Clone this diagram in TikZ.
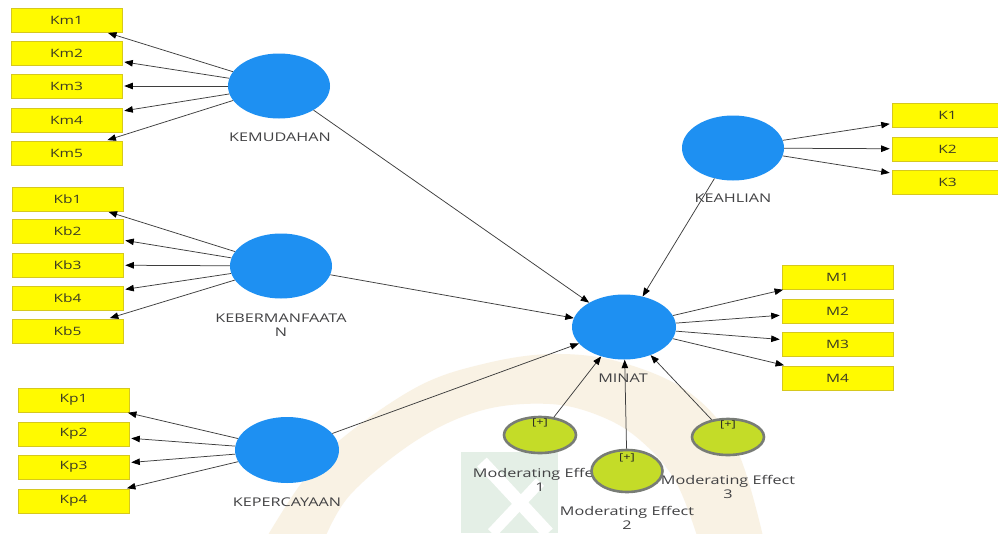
\documentclass[tikz,border=0pt]{standalone}
\usepackage{fontspec}
\usetikzlibrary{shapes.geometric,arrows.meta}
\newfontfamily\diagfont[FakeStretch=1.35]{Open Sans}

\definecolor{lvblue}{RGB}{30,144,242}
\definecolor{indyellow}{RGB}{255,250,0}
\definecolor{indborder}{RGB}{214,200,30}
\definecolor{modgreen}{RGB}{196,220,40}
\definecolor{modgray}{RGB}{120,124,118}
\definecolor{linkgray}{RGB}{62,62,62}
\definecolor{labelgray}{RGB}{66,66,68}
\definecolor{boxtext}{RGB}{60,60,36}
\definecolor{wmbeige}{RGB}{249,242,228}
\definecolor{wmgreen}{RGB}{228,239,230}

\tikzset{
  lv/.style={ellipse, fill=lvblue, minimum width=102pt, minimum height=65pt, inner sep=0pt},
  indbox/.style={rectangle, fill=indyellow, draw=indborder, line width=0.6pt,
    minimum width=111pt, minimum height=24pt, inner sep=0pt,
    font=\diagfont\fontsize{11.5}{12}\selectfont, text=boxtext},
  modlv/.style={ellipse, fill=modgreen, draw=modgray, line width=2.6pt,
    minimum width=72pt, minimum height=36pt, inner sep=0pt},
  plus/.style={font=\diagfont\fontsize{9.5}{10}\selectfont, text=black!85, inner sep=0pt},
  lvname/.style={font=\diagfont\fontsize{12}{14.5}\selectfont, text=labelgray,
    align=center, inner sep=0pt},
  link/.style={draw=linkgray, line width=0.75pt,
    -{Triangle[length=8.5pt,width=6.5pt,color=black]}, shorten >=2pt},
}

\begin{document}
\begin{tikzpicture}[x=1pt,y=-1pt]
\useasboundingbox (0,0) rectangle (998,533);
\fill[white] (0,0) rectangle (998,533);

% faint background emblem: a broad arch and a green block with a white cross
\begin{scope}
  \clip (0,0) rectangle (998,533);
  \fill[wmbeige] plot[smooth, tension=0.6] coordinates {(262,545) (300,485) (340,440) (417,387) (483,364) (552,354) (620,362) (690,393) (737,450) (765,545)}
    -- plot[smooth, tension=0.6] coordinates {(700,545) (676,482) (640,440) (600,416) (550,404) (483,410) (417,440) (350,495) (322,545)}
    -- cycle;
  \fill[wmgreen] (461,452) rectangle (558,533);
  \draw[white, line width=13pt] (482,462) -- (548,533);
  \draw[white, line width=11pt] (540,482) -- (492,533);
\end{scope}

% latent variables
\node[lv] (kem) at (279,86) {};
\node[lv] (keb) at (281,266) {};
\node[lv, minimum width=104pt, minimum height=66pt] (kep) at (287,450) {};
\node[lv, minimum width=104pt] (minat) at (624,327) {};
\node[lv] (keah) at (733,148) {};

% latent variable names
\node[lvname] (kemname) at (280,137) {KEMUDAHAN};
\node[lvname] (kebname) at (281,325) {KEBERMANFAATA\\N};
\node[lvname] (kepname) at (287,502) {KEPERCAYAAN};
\node[lvname] (minatname) at (623,378) {MINAT};
\node[lvname] (keahname) at (733,198) {KEAHLIAN};

% indicators
\node[indbox] (km1) at (66.5,20) {Km1};
\node[indbox] (km2) at (66.5,53) {Km2};
\node[indbox] (km3) at (66.5,86) {Km3};
\node[indbox] (km4) at (66.5,120) {Km4};
\node[indbox] (km5) at (66.5,153) {Km5};

\node[indbox] (kb1) at (67.5,199) {Kb1};
\node[indbox] (kb2) at (67.5,231) {Kb2};
\node[indbox] (kb3) at (67.5,265) {Kb3};
\node[indbox] (kb4) at (67.5,298) {Kb4};
\node[indbox] (kb5) at (67.5,331) {Kb5};

\node[indbox] (kp1) at (73.5,400) {Kp1};
\node[indbox] (kp2) at (73.5,434) {Kp2};
\node[indbox] (kp3) at (73.5,467) {Kp3};
\node[indbox] (kp4) at (73.5,501) {Kp4};

\node[indbox] (k1) at (947.5,115) {K1};
\node[indbox] (k2) at (947.5,149) {K2};
\node[indbox] (k3) at (947.5,182) {K3};

\node[indbox] (m1) at (837.5,277) {M1};
\node[indbox] (m2) at (837.5,311) {M2};
\node[indbox] (m3) at (837.5,344) {M3};
\node[indbox] (m4) at (837.5,378) {M4};

% moderating effects (the second ellipse lies over the first caption)
\node[modlv] (me1) at (540,435) {};
\node[modlv] (me3) at (728,437) {};
\node[lvname] (me1name) at (540,480) {Moderating Effect\\1};
\node[lvname] (me3name) at (728,487) {Moderating Effect\\3};
\node[lvname] (me2name) at (627,518) {Moderating Effect\\2};
\node[modlv, minimum width=71pt, minimum height=42pt] (me2) at (627,471) {};
\node[plus] (me1plus) at (540,423) {[+]};
\node[plus] (me2plus) at (627,458) {[+]};
\node[plus] (me3plus) at (728,425) {[+]};

% outer loadings
\foreach \i in {1,...,5} \draw[link] (kem) -- (km\i);
\foreach \i in {1,...,5} \draw[link] (keb) -- (kb\i);
\foreach \i in {1,...,4} \draw[link] (kep) -- (kp\i);
\foreach \i in {1,2,3} \draw[link] (keah) -- (k\i);
\foreach \i in {1,...,4} \draw[link] (minat) -- (m\i);

% structural paths
\draw[link, shorten >=0pt] (kem) -- (minat);
\draw[link, shorten >=0pt] (keb) -- (minat);
\draw[link, shorten >=0pt] (kep) -- (minat);
\draw[link, shorten >=0pt] (keah) -- (minat);
\draw[link, shorten >=0pt] (me1) -- (minat);
\draw[link, shorten >=0pt] (me2) -- (minat);
\draw[link, shorten >=0pt] (me3) -- (minat);
\end{tikzpicture}
\end{document}
